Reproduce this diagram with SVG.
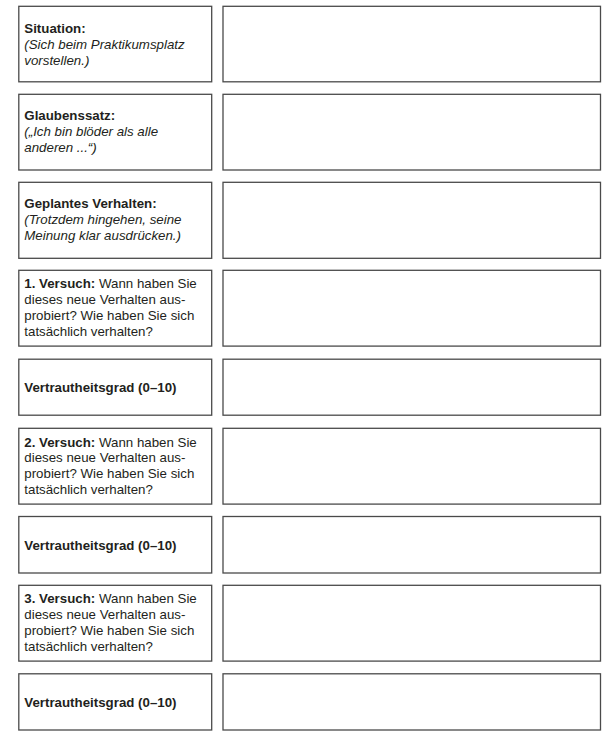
<svg xmlns="http://www.w3.org/2000/svg" width="616" height="742" viewBox="0 0 616 742">
<style>
.box{fill:#ffffff;stroke:#4a4a4a;stroke-width:1.3}
.t{font-family:"Liberation Sans",Arial,sans-serif;font-size:13.3px;fill:#231f20}
.b{font-weight:bold}
.i{font-style:italic}
</style>
<rect x="0" y="0" width="616" height="742" fill="#ffffff"/>
<g id="row1">
<rect class="box" x="18.8" y="6.3" width="192.9" height="75.5"/>
<rect class="box" x="223" y="6.3" width="377.5" height="75.5"/>
<text class="t" x="24.3" y="33.3"><tspan class="b">Situation:</tspan><tspan class="i" x="24.3" y="49.3">(Sich beim Praktikumsplatz</tspan><tspan class="i" x="24.3" y="65">vorstellen.)</tspan></text>
</g>
<g id="row2">
<rect class="box" x="18.8" y="94.3" width="192.9" height="75.7"/>
<rect class="box" x="223" y="94.3" width="377.5" height="75.7"/>
<text class="t" x="24.3" y="120.3"><tspan class="b">Glaubenssatz:</tspan><tspan class="i" x="24.3" y="136.2">(„Ich bin blöder als alle</tspan><tspan class="i" x="24.3" y="152">anderen ...“)</tspan></text>
</g>
<g id="row3">
<rect class="box" x="18.8" y="182.3" width="192.9" height="76"/>
<rect class="box" x="223" y="182.3" width="377.5" height="76"/>
<text class="t" x="24.3" y="208.3"><tspan class="b">Geplantes Verhalten:</tspan><tspan class="i" x="24.3" y="224.3">(Trotzdem hingehen, seine</tspan><tspan class="i" x="24.3" y="240.1">Meinung klar ausdrücken.)</tspan></text>
</g>
<g id="row4">
<rect class="box" x="18.8" y="270.3" width="192.9" height="75.8"/>
<rect class="box" x="223" y="270.3" width="377.5" height="75.8"/>
<text class="t" x="24.3" y="288.4"><tspan class="b">1. Versuch:</tspan> Wann haben Sie<tspan x="24.3" y="304.2">dieses neue Verhalten aus-</tspan><tspan x="24.3" y="320">probiert? Wie haben Sie sich</tspan><tspan x="24.3" y="335.8">tatsächlich verhalten?</tspan></text>
</g>
<g id="row5">
<rect class="box" x="18.8" y="359.2" width="192.9" height="56"/>
<rect class="box" x="223" y="359.2" width="377.5" height="56"/>
<text class="t b" x="24.3" y="392">Vertrautheitsgrad (0–10)</text>
</g>
<g id="row6">
<rect class="box" x="18.8" y="428.3" width="192.9" height="75.8"/>
<rect class="box" x="223" y="428.3" width="377.5" height="75.8"/>
<text class="t" x="24.3" y="446.6"><tspan class="b">2. Versuch:</tspan> Wann haben Sie<tspan x="24.3" y="462.4">dieses neue Verhalten aus-</tspan><tspan x="24.3" y="478.2">probiert? Wie haben Sie sich</tspan><tspan x="24.3" y="494">tatsächlich verhalten?</tspan></text>
</g>
<g id="row7">
<rect class="box" x="18.8" y="516.5" width="192.9" height="56.5"/>
<rect class="box" x="223" y="516.5" width="377.5" height="56.5"/>
<text class="t b" x="24.3" y="549.5">Vertrautheitsgrad (0–10)</text>
</g>
<g id="row8">
<rect class="box" x="18.8" y="585.3" width="192.9" height="75.8"/>
<rect class="box" x="223" y="585.3" width="377.5" height="75.8"/>
<text class="t" x="24.3" y="603.4"><tspan class="b">3. Versuch:</tspan> Wann haben Sie<tspan x="24.3" y="619.2">dieses neue Verhalten aus-</tspan><tspan x="24.3" y="635">probiert? Wie haben Sie sich</tspan><tspan x="24.3" y="650.8">tatsächlich verhalten?</tspan></text>
</g>
<g id="row9">
<rect class="box" x="18.8" y="673.8" width="192.9" height="56.2"/>
<rect class="box" x="223" y="673.8" width="377.5" height="56.2"/>
<text class="t b" x="24.3" y="706.8">Vertrautheitsgrad (0–10)</text>
</g>
<g id="connectors"></g>
</svg>
